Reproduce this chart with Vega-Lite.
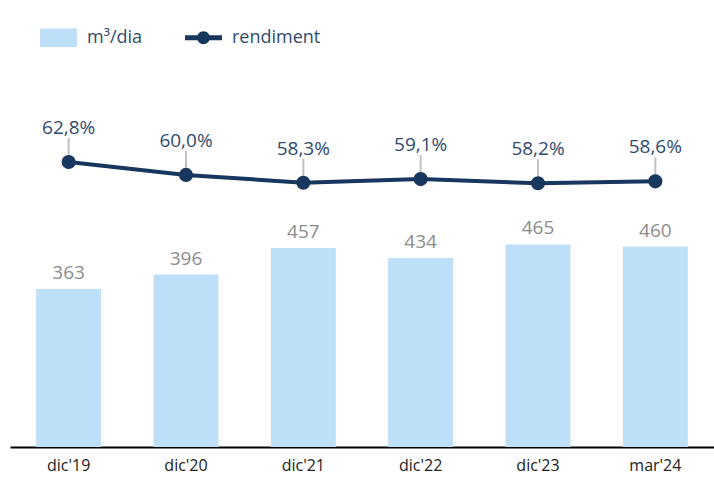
{
  "$schema": "https://vega.github.io/schema/vega-lite/v6.json",
  "width": 704,
  "height": 392,
  "autosize": {"type": "none"},
  "padding": {"left": 10, "top": 55, "right": 0, "bottom": 35},
  "config": {"view": {"stroke": null}, "font": "Open Sans"},
  "data": {"values": [
    {"periode": "dic'19", "m3": 363, "rend": 62.8, "lbl": "62,8%"},
    {"periode": "dic'20", "m3": 396, "rend": 60.0, "lbl": "60,0%"},
    {"periode": "dic'21", "m3": 457, "rend": 58.3, "lbl": "58,3%"},
    {"periode": "dic'22", "m3": 434, "rend": 59.1, "lbl": "59,1%"},
    {"periode": "dic'23", "m3": 465, "rend": 58.2, "lbl": "58,2%"},
    {"periode": "mar'24", "m3": 460, "rend": 58.6, "lbl": "58,6%"}
  ]},
  "encoding": {
    "x": {"field": "periode", "type": "nominal", "sort": null,
      "scale": {"paddingInner": 0.446, "paddingOuter": 0.223},
      "axis": {"title": null, "labelAngle": 0, "ticks": false, "domainColor": "#000000", "domainWidth": 2,
        "labelFontSize": 16, "labelColor": "#222222", "labelPadding": 10}}
  },
  "layer": [
    {
      "layer": [
        {"mark": {"type": "bar", "color": "#BDDFF8"},
          "encoding": {
            "y": {"field": "m3", "type": "quantitative", "scale": {"domain": [0, 900]}, "axis": null},
            "color": {"datum": "m³/dia", "type": "nominal",
              "scale": {"domain": ["m³/dia", "rendiment"], "range": ["#BDDFF8", "#17375E"]},
              "legend": {"title": null, "orient": "none", "legendX": 30, "legendY": -36, "direction": "horizontal",
                "symbolSize": 1369, "labelFontSize": 18, "labelColor": "#2F4A6D", "labelOffset": 10, "columnPadding": 42,
                "symbolStrokeWidth": 0,
                "encode": {"symbols": {"update": {
                  "shape": {"signal": "datum.value === 'rendiment' ? 'M-1,-0.13H1V0.13H-1Z M-0.35,0 a0.35,0.35 0 1,1 0.7,0 a0.35,0.35 0 1,1 -0.7,0Z' : 'M-1,-0.5H1V0.5H-1Z'"},
                  "fill": {"signal": "datum.value === 'rendiment' ? '#17375E' : '#BDDFF8'"},
                  "opacity": {"value": 1},
                  "strokeWidth": {"value": 0}
                }}}}}
          }},
        {"mark": {"type": "text", "baseline": "bottom", "dy": -6, "fontSize": 19, "color": "#8C8C8C"},
          "encoding": {
            "y": {"field": "m3", "type": "quantitative", "scale": {"domain": [0, 900]}, "axis": null},
            "text": {"field": "m3", "type": "quantitative"}
          }}
      ]
    },
    {
      "layer": [
        {"mark": {"type": "tick", "orient": "vertical", "size": 24, "thickness": 2, "yOffset": -12, "color": "#A6A6A6"},
          "encoding": {
            "y": {"field": "rend", "type": "quantitative", "scale": {"domain": [1, 86], "zero": false}, "axis": null}
          }},
        {"mark": {"type": "line", "strokeWidth": 4, "color": "#17375E"},
          "encoding": {
            "y": {"field": "rend", "type": "quantitative", "scale": {"domain": [1, 86], "zero": false}, "axis": null},
            "color": {"datum": "rendiment", "type": "nominal"}
          }},
        {"mark": {"type": "point", "filled": true, "size": 200, "opacity": 1, "color": "#17375E"},
          "encoding": {
            "y": {"field": "rend", "type": "quantitative", "scale": {"domain": [1, 86], "zero": false}, "axis": null}
          }},
        {"mark": {"type": "text", "baseline": "alphabetic", "dy": -28, "fontSize": 19, "color": "#2F4A6D"},
          "encoding": {
            "y": {"field": "rend", "type": "quantitative", "scale": {"domain": [1, 86], "zero": false}, "axis": null},
            "text": {"field": "lbl", "type": "nominal"}
          }}
      ]
    }
  ],
  "resolve": {"scale": {"y": "independent"}}
}
